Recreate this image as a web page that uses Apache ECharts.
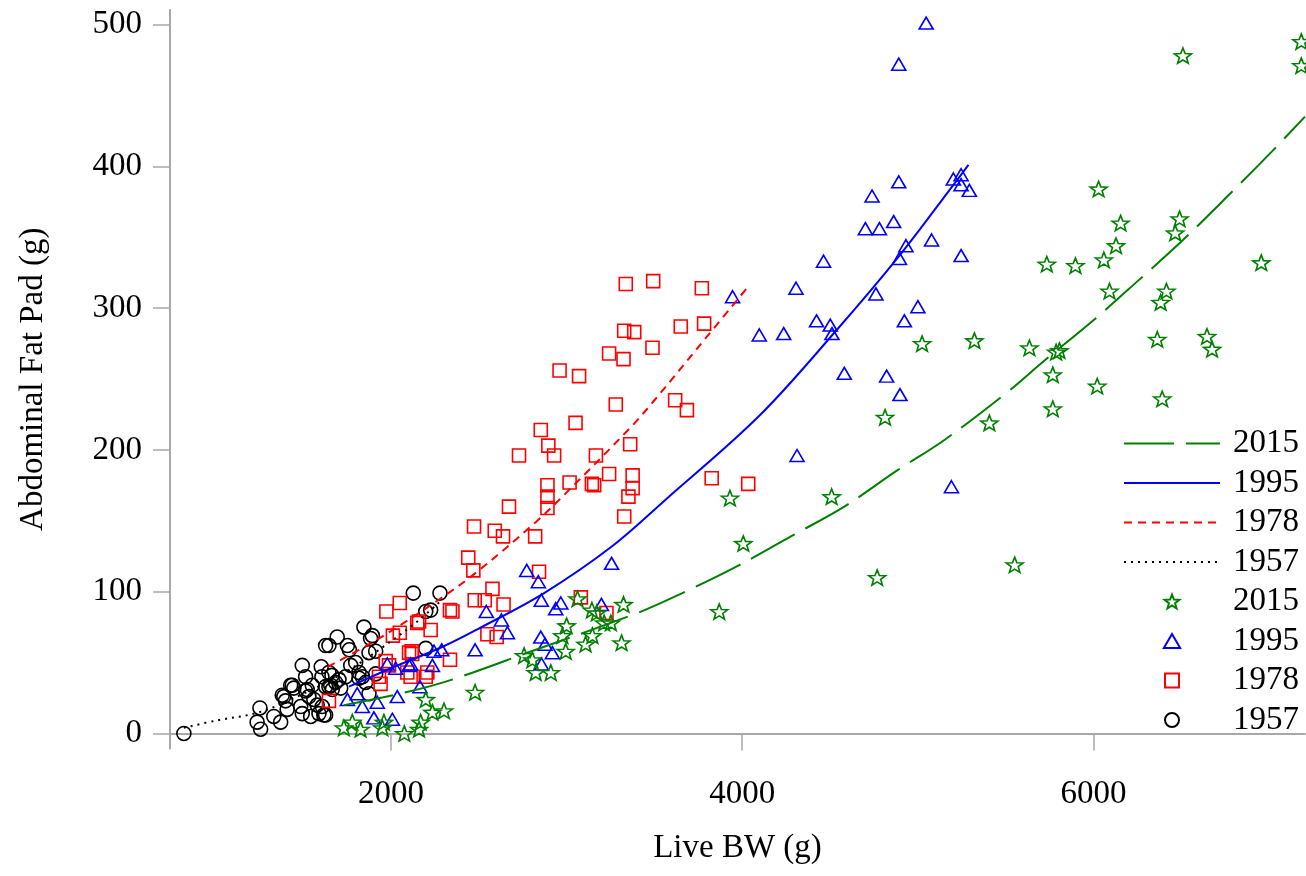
<!DOCTYPE html>
<html>
<head>
<meta charset="utf-8">
<script src="https://cdn.jsdelivr.net/npm/echarts@6/dist/echarts.min.js"></script>
<style>
html,body{margin:0;padding:0;background:#fff;}
#chart{width:1306px;height:876px;}
</style>
</head>
<body>
<div id="chart"></div>
<script>
// ---- data ----
const years = ['2015', '1995', '1978', '1957'];
const xTicks = [2000, 4000, 6000];
const yTicks = [0, 100, 200, 300, 400, 500];

const pts1957 = [[821,0],[1254,18],[1238,8],[1258,3],[1333,12],[1372,8],[1495,48],[1381,27],[1438,34],[1400,23],
  [1409,17],[1486,19],[1495,14],[1543,12],[1514,30],[1561,24],[1580,20],[1603,47],[1628,62],[1694,68],
  [1607,40],[1618,13],[1647,33],[1685,36],[1664,41],[1714,32],[1752,62],[1763,59],[1771,48],[1799,50],
  [1846,75],[1894,69],[1875,57],[1913,58],[1818,43],[1818,39],[1856,36],[1913,42],[1875,28],[2127,99],
  [2279,99],[2198,60],[2226,87],[2198,86],[1884,67],[1647,62],[1390,26],[1429,34],[1447,32],[1523,31],
  [1552,34],[1533,26],[1590,14],[1628,13],[1609,19],[1647,43],[1628,33],[1657,34],[1666,31],[1704,38],
  [1742,40],[1837,40],[1514,40]];

const pts1978 = [[3337,317],[3493,319],[3770,314],[3328,284],[3385,283],[3650,287],[3783,289],[3489,272],[3242,268],[3324,264],
  [2960,256],[3071,252],[3280,232],[3618,235],[3685,228],[3051,219],[2853,214],[2896,203],[3362,204],[2729,196],
  [2929,196],[3167,196],[3242,183],[3376,182],[3017,177],[2891,175],[3144,176],[3157,175],[3376,173],[2891,167],
  [3352,167],[2891,159],[2672,160],[3328,153],[3826,180],[4034,176],[2473,146],[2591,143],[2638,139],[2821,139],
  [2440,124],[2469,115],[2843,114],[2578,102],[2477,94],[2534,94],[2641,91],[3081,96],[3227,85],[2336,87],
  [2350,86],[1974,86],[2050,92],[2150,78],[2226,73],[2011,69],[2050,71],[2549,70],[2602,68],[2103,57],
  [2118,58],[1970,51],[2336,52],[2207,43],[2093,43],[2160,79],[2112,40],[2198,40],[1932,40],[1941,35],
  [1647,23],[1989,48],[2121,56]];

const pts1995 = [[5047,501],[4891,472],[4891,389],[4739,379],[5202,391],[5246,394],[5246,387],[5293,383],[4701,356],[4781,356],
  [4862,361],[4932,344],[4895,335],[5078,348],[5246,337],[4463,333],[4306,314],[4761,310],[3945,308],[4097,281],
  [4236,282],[4423,291],[4501,288],[4511,282],[5000,301],[4923,291],[4581,254],[4822,252],[4898,239],[4312,196],
  [5191,174],[2773,115],[2839,107],[3256,120],[2856,94],[2938,88],[2967,92],[3198,91],[2543,86],[2629,80],
  [2663,71],[2479,59],[2853,68],[2877,63],[2919,57],[2857,49],[2245,58],[2289,59],[2236,48],[2103,48],
  [2027,46],[1979,49],[2112,49],[2165,33],[1752,24],[1808,28],[1837,19],[1922,22],[2036,26],[1903,11],
  [2008,10]];

const pts2015 = [[6509,478],[7183,488],[7183,471],[6029,384],[6154,360],[6490,363],[6465,353],[6128,344],[5734,331],[5897,330],
  [6059,334],[6955,332],[6091,312],[6415,312],[6382,304],[6363,278],[6646,280],[6675,271],[5635,272],[5806,270],
  [5787,269],[5768,253],[6021,245],[5768,229],[6391,236],[5407,219],[5322,277],[5024,275],[4813,223],[3930,166],
  [4509,167],[4006,134],[4768,110],[5551,119],[3869,86],[3324,91],[3313,64],[3252,78],[3062,95],[3144,87],
  [3172,85],[3214,78],[3000,76],[2976,69],[2995,58],[3108,63],[3147,69],[2758,55],[2805,52],[2910,43],
  [2824,43],[2479,29],[2198,24],[2236,15],[2302,16],[2169,8],[2160,3],[2076,0],[1960,8],[1951,4],
  [1827,3],[1732,4],[1780,8]];

// fitted curves
const fit1957 = [[821,4],[1000,9],[1250,15],[1500,28],[1750,44],[2000,65],[2150,79],[2280,93]];
const fit1978 = [[1640,47],[1932,67],[2292,96],[2500,115],[2824,149],[3000,170],[3373,217],[3500,235],[3800,280],[4040,316]];
const fit1995 = [[1761,33],[2000,46],[2291,61],[2500,74],[2872,99],[3259,132],[3565,165],[4097,224],[4534,284],[4895,337],[5197,386],[5288,401]];
const fit2015 = [[1732,20],[2084,29],[2348,38],[2800,58],[3404,85],[3659,99],[3972,118],[4277,139],[4581,160],[4876,185],[5151,207],[5502,240],[5721,263],[5996,291],[6251,319],[6509,348],[6764,379],[7012,410],[7204,435]];

// ---- styling ----
const FONT = "'Liberation Serif','Times New Roman',serif";
const AXIS_GRAY = '#a8a8a8';
const C2015 = '#008000', C1995 = '#0000ff', C1978 = '#ff0000', C1957 = '#000000';
const STAR = 'path://M10,0 L12.47,6.6 L19.51,6.91 L13.99,11.3 L15.88,18.09 L10,14.2 L4.12,18.09 L6.01,11.3 L0.49,6.91 L7.53,6.6 Z';
const SQUARE = 'path://M0,0 L10,0 L10,10 L0,10 Z';
const TRI = 'path://M7,0 L14,12 L0,12 Z';
const CIRC = 'path://M10,0 A10,10 0 1,1 9.99,0 Z';

function scatter(name, data, color, symbol, size) {
  return {
    name: name, type: 'scatter', data: data,
    symbol: symbol, symbolSize: size, symbolKeepAspect: true,
    itemStyle: { color: 'rgba(255,255,255,0)', borderColor: color, borderWidth: 1.6, opacity: 1 },
    emphasis: { disabled: true }, z: 3
  };
}
function fitLine(name, data, color, dash, width) {
  return {
    name: name, type: 'line', data: data, symbol: 'none', smooth: 0.35,
    lineStyle: { color: color, width: width, type: dash },
    itemStyle: { color: color },
    emphasis: { disabled: true }, z: 4, clip: true
  };
}
const noDot = { color: 'rgba(0,0,0,0)', borderWidth: 0, borderColor: 'rgba(0,0,0,0)' };

const chart = echarts.init(document.getElementById('chart'), null, { renderer: 'canvas' });
chart.setOption({
  animation: false,
  backgroundColor: '#fff',
  textStyle: { fontFamily: FONT },
  grid: { left: 170, right: 1, top: 10, bottom: 127.5, outerBoundsMode: 'none' },
  xAxis: {
    type: 'value', min: 742, max: 7204,
    name: 'Live BW (g)', nameLocation: 'middle', nameGap: 83,
    nameTextStyle: { fontSize: 33, color: '#000', fontFamily: FONT },
    axisLine: { show: true, lineStyle: { color: AXIS_GRAY, width: 2 } },
    axisTick: { show: true, length: 17, customValues: xTicks, lineStyle: { color: AXIS_GRAY, width: 1.5 } },
    axisLabel: { customValues: xTicks, margin: 29, fontSize: 33, color: '#000', fontFamily: FONT,
                 formatter: function (v) { return String(v); } },
    splitLine: { show: false }
  },
  yAxis: {
    type: 'value', min: -10.6, max: 510.2,
    name: 'Abdominal Fat Pad (g)', nameLocation: 'middle', nameGap: 120, nameRotate: 90,
    nameTextStyle: { fontSize: 33, color: '#000', fontFamily: FONT },
    axisLine: { show: true, lineStyle: { color: AXIS_GRAY, width: 2 } },
    axisTick: { show: true, length: 17, customValues: yTicks, lineStyle: { color: AXIS_GRAY, width: 1.5 } },
    axisLabel: { customValues: yTicks, margin: 28, fontSize: 33, color: '#000', fontFamily: FONT,
                 formatter: function (v) { return String(v); } },
    splitLine: { show: false }
  },
  legend: {
    orient: 'vertical', right: 2, top: 422,
    itemWidth: 96, itemHeight: 14, itemGap: 6.5,
    textStyle: { fontSize: 33, color: '#000', fontFamily: FONT, padding: [0, 0, 0, 8] },
    formatter: function (n) { return n.replace('fit', ''); },
    selectedMode: false,
    data: [
      { name: 'fit' + years[0], itemStyle: noDot },
      { name: 'fit' + years[1], itemStyle: noDot },
      { name: 'fit' + years[2], itemStyle: noDot },
      { name: 'fit' + years[3], itemStyle: noDot },
      { name: years[0], icon: STAR },
      { name: years[1], icon: TRI },
      { name: years[2], icon: SQUARE },
      { name: years[3], icon: CIRC }
    ]
  },
  series: [
    scatter(years[3], pts1957, C1957, 'circle', 14),
    scatter(years[2], pts1978, C1978, 'rect', 13),
    scatter(years[1], pts1995, C1995, 'triangle', [14, 12]),
    scatter(years[0], pts2015, C2015, STAR, [17, 16]),
    fitLine('fit' + years[3], fit1957, C1957, [2, 5], 2),
    fitLine('fit' + years[2], fit1978, C1978, [8, 6], 2),
    fitLine('fit' + years[1], fit1995, C1995, 'solid', 2),
    fitLine('fit' + years[0], fit2015, C2015, [50, 12], 2)
  ]
});
</script>
</body>
</html>
